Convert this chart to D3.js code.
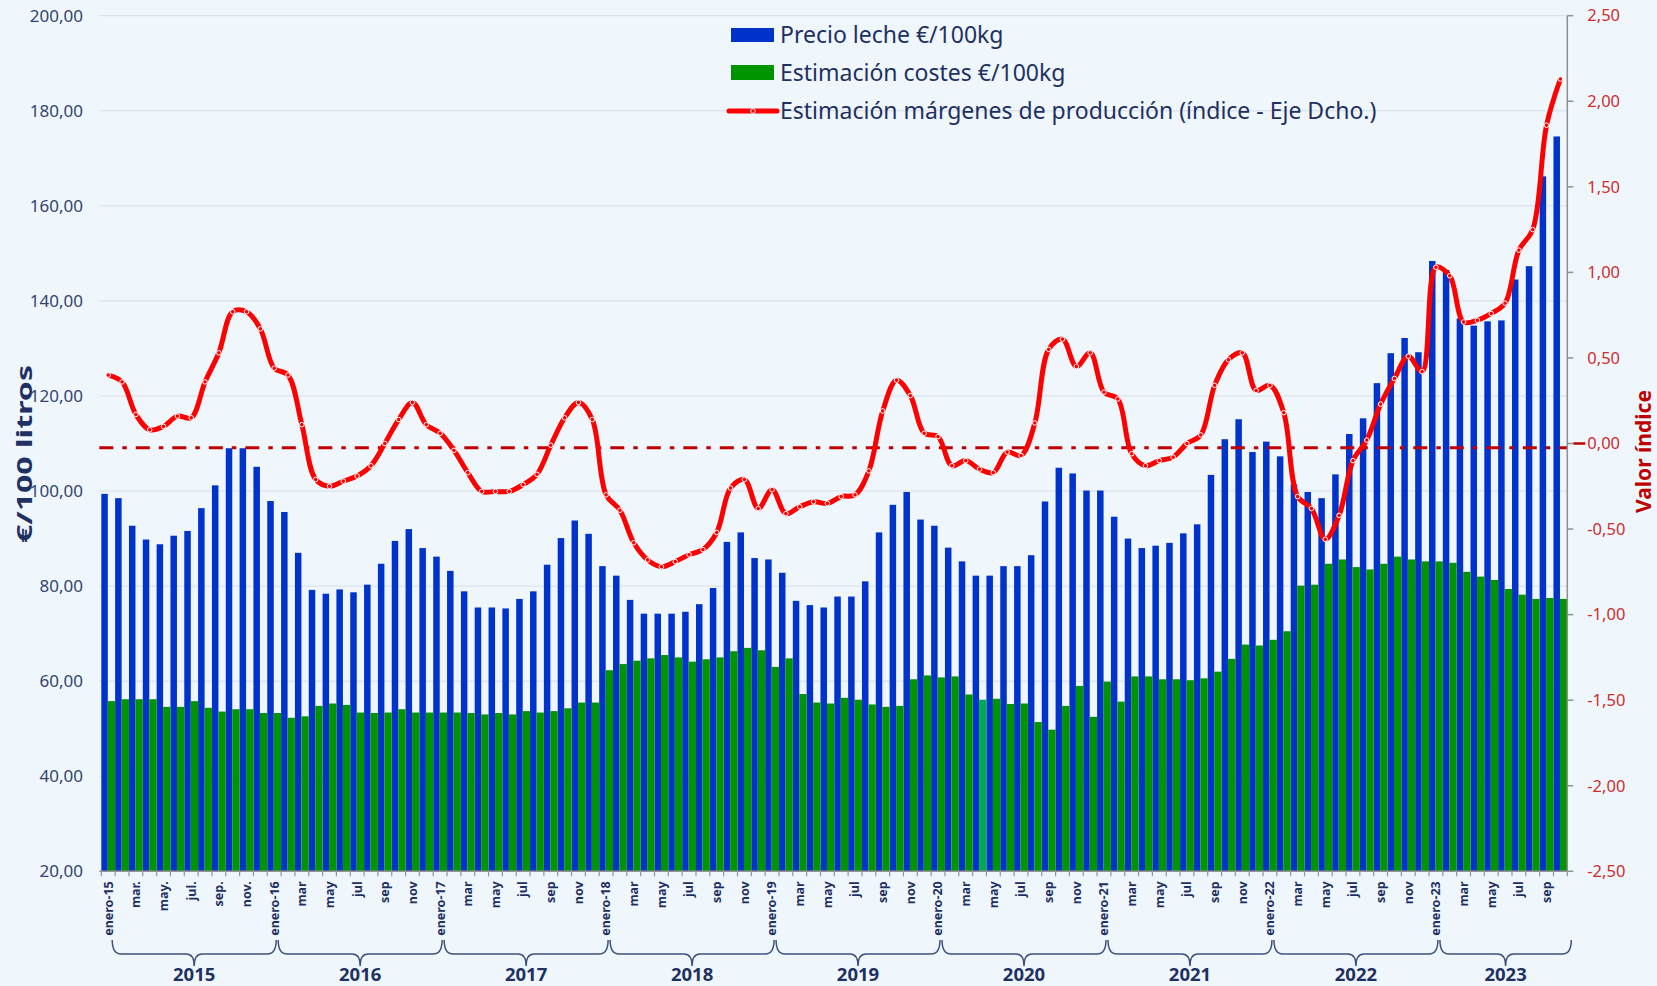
<!DOCTYPE html>
<html>
<head>
<meta charset="utf-8">
<script src="https://cdn.jsdelivr.net/npm/d3@7"></script>
<style>
    body { margin: 0; background: #eff7fd; }
    svg { display: block; font-family: "Noto Sans", sans-serif; }
</style>
</head>
<body>
<svg id="chart" width="1657" height="986"></svg>
<script>
// Monthly data, enero-2015 .. oct-2023
const precioLeche = [
    99.4, 98.5, 92.7, 89.8, 88.8, 90.6, 91.6, 96.4, 101.2, 109.0, 109.0, 105.1,
    97.9, 95.6, 87.0, 79.2, 78.4, 79.3, 78.7, 80.3, 84.7, 89.5, 92.0, 88.0,
    86.2, 83.2, 78.9, 75.5, 75.5, 75.3, 77.3, 78.9, 84.5, 90.1, 93.8, 91.0,
    84.2, 82.2, 77.1, 74.2, 74.2, 74.2, 74.6, 76.2, 79.6, 89.3, 91.3, 85.9,
    85.6, 82.8, 76.9, 76.0, 75.5, 77.8, 77.8, 81.0, 91.3, 97.1, 99.8, 94.0,
    92.7, 88.1, 85.2, 82.2, 82.2, 84.2, 84.2, 86.5, 97.8, 104.9, 103.7, 100.1,
    100.1, 94.6, 90.0, 88.0, 88.5, 89.1, 91.1, 93.0, 103.4, 110.9, 115.1, 108.2,
    110.4, 107.3, 101.4, 99.8, 98.5, 103.5, 112.0, 115.3, 122.7, 129.0, 132.2, 129.2,
    148.4, 146.5, 136.3, 134.8, 135.7, 135.9, 144.5, 147.3, 166.2, 174.6
];
const costes = [
    55.8, 56.2, 56.2, 56.2, 54.6, 54.6, 55.8, 54.4, 53.6, 54.1, 54.1, 53.3,
    53.3, 52.3, 52.6, 54.8, 55.3, 55.0, 53.4, 53.3, 53.4, 54.1, 53.4, 53.4,
    53.4, 53.4, 53.3, 53.0, 53.3, 53.0, 53.7, 53.4, 53.7, 54.3, 55.5, 55.5,
    62.3, 63.6, 64.3, 64.8, 65.5, 65.0, 64.1, 64.6, 65.0, 66.3, 67.0, 66.5,
    63.0, 64.8, 57.3, 55.5, 55.3, 56.5, 56.1, 55.1, 54.6, 54.8, 60.4, 61.2,
    60.8, 61.0, 57.2, 56.1, 56.3, 55.2, 55.3, 51.4, 49.8, 54.8, 59.0, 52.5,
    59.9, 55.7, 61.0, 61.0, 60.4, 60.4, 60.2, 60.6, 62.0, 64.7, 67.7, 67.5,
    68.7, 70.5, 80.1, 80.3, 84.7, 85.6, 84.0, 83.5, 84.7, 86.2, 85.6, 85.2,
    85.2, 84.9, 83.0, 82.0, 81.3, 79.4, 78.2, 77.3, 77.5, 77.3
];
const margenes = [
    0.40, 0.36, 0.17, 0.08, 0.10, 0.16, 0.15, 0.36, 0.53, 0.77, 0.77, 0.67,
    0.44, 0.40, 0.11, -0.21, -0.25, -0.22, -0.19, -0.13, 0.00, 0.14, 0.24, 0.11,
    0.06, -0.04, -0.17, -0.28, -0.28, -0.28, -0.24, -0.18, -0.01, 0.15, 0.24, 0.14,
    -0.30, -0.39, -0.58, -0.68, -0.72, -0.69, -0.65, -0.62, -0.52, -0.26, -0.21, -0.38,
    -0.27, -0.41, -0.37, -0.34, -0.35, -0.31, -0.30, -0.16, 0.19, 0.37, 0.28, 0.06,
    0.04, -0.13, -0.10, -0.15, -0.17, -0.05, -0.07, 0.12, 0.55, 0.61, 0.45, 0.53,
    0.30, 0.26, -0.06, -0.13, -0.10, -0.08, 0.00, 0.05, 0.34, 0.49, 0.53, 0.31,
    0.34, 0.18, -0.31, -0.38, -0.56, -0.42, -0.10, 0.02, 0.23, 0.38, 0.51, 0.42,
    1.03, 0.98, 0.71, 0.72, 0.76, 0.82, 1.13, 1.25, 1.86, 2.13
];
const refLine = -0.025; // dash-dot reference line on the right axis
const years = ['2015', '2016', '2017', '2018', '2019', '2020', '2021', '2022', '2023'];
const monthTicks2015 = ['enero', '', 'mar.', '', 'may.', '', 'jul.', '', 'sep.', '', 'nov.', ''];
const monthTicks = ['enero', '', 'mar', '', 'may', '', 'jul', '', 'sep', '', 'nov', ''];
const leftTicks = [20, 40, 60, 80, 100, 120, 140, 160, 180, 200];
const rightTicks = [2.5, 2, 1.5, 1, 0.5, 0, -0.5, -1, -1.5, -2, -2.5];
const highlightIdx = 63; // abr-2020 costes bar drawn in a lighter green
const legendItems = ['Precio leche €/100kg', 'Estimación costes €/100kg', 'Estimación márgenes de producción (índice - Eje Dcho.)'];

const n = precioLeche.length;
const tickLabels = d3.range(n).map(i => {
    const m = i % 12, y = Math.floor(i / 12);
    const name = (y === 0 ? monthTicks2015 : monthTicks)[m];
    return m === 0 ? name + '-' + years[y].slice(2) : name;
});

const navy = '#1f3062';
const x0 = 101.3, x1 = 1567.3, yTop = 15.7, yBot = 871.3;

const svg = d3.select('#chart');

const x = d3.scaleBand().domain(d3.range(n)).range([x0, x1]).paddingInner(0).paddingOuter(0);
const yL = d3.scaleLinear().domain([20, 200]).range([yBot, yTop]);
const yR = d3.scaleLinear().domain([-2.5, 2.5]).range([yBot, yTop]);
const bw = x.bandwidth();
const fmt = v => Math.abs(v).toFixed(2).replace('.', ',');

// gridlines
svg.append('g').selectAll('line')
    .data(leftTicks.slice(1))
    .join('line')
    .attr('x1', x0 - 2).attr('x2', x1)
    .attr('y1', d => yL(d)).attr('y2', d => yL(d))
    .attr('stroke', '#d7dee9').attr('stroke-width', 1);

// left labels
svg.append('g').selectAll('text')
    .data(leftTicks)
    .join('text')
    .attr('x', 83).attr('y', d => yL(d)).attr('dy', '0.35em')
    .attr('text-anchor', 'end')
    .attr('font-size', 17).attr('fill', '#34446f')
    .text(d => fmt(d));

// bars
svg.append('g').selectAll('rect')
    .data(precioLeche)
    .join('rect')
    .attr('x', (d, i) => x(i))
    .attr('width', bw * 0.47)
    .attr('y', d => yL(d))
    .attr('height', d => yBot - yL(d))
    .attr('fill', '#0033cc');

svg.append('g').selectAll('rect')
    .data(costes)
    .join('rect')
    .attr('x', (d, i) => x(i) + bw * 0.47)
    .attr('width', bw * 0.53)
    .attr('y', d => yL(d))
    .attr('height', d => yBot - yL(d))
    .attr('fill', (d, i) => i === highlightIdx ? '#00a850' : '#009400');

// reference line (dash-dot)
svg.append('line')
    .attr('x1', x0 - 2).attr('x2', x1)
    .attr('y1', yR(refLine)).attr('y2', yR(refLine))
    .attr('stroke', '#c00000').attr('stroke-width', 3)
    .attr('stroke-dasharray', '14,9,4.5,9');
svg.append('line')
    .attr('x1', x1 + 6).attr('x2', x1 + 18)
    .attr('y1', yR(0)).attr('y2', yR(0))
    .attr('stroke', '#c00000').attr('stroke-width', 2.5);

// x axis
svg.append('line')
    .attr('x1', x0 - 2).attr('x2', x1)
    .attr('y1', yBot).attr('y2', yBot)
    .attr('stroke', '#959595').attr('stroke-width', 1.5);
svg.append('g').selectAll('line')
    .data(d3.range(n + 1))
    .join('line')
    .attr('x1', i => x0 + i * bw).attr('x2', i => x0 + i * bw)
    .attr('y1', yBot).attr('y2', yBot + 5)
    .attr('stroke', '#959595').attr('stroke-width', 1.2);

svg.append('g').selectAll('text')
    .data(tickLabels)
    .join('text')
    .attr('transform', (d, i) => `translate(${x(i) + bw / 2},${yBot + 10}) rotate(-90)`)
    .attr('dy', '0.35em')
    .attr('text-anchor', 'end')
    .attr('font-size', 12.5).attr('font-weight', 'bold').attr('fill', navy)
    .text(d => d);

// year braces
const braceTop = 940, braceMid = 954, braceTip = 966;
const yearSpans = years.map((yr, k) => {
    const a = x(12 * k) + bw / 2 + 4;
    const b = Math.min(x(12 * k) + 12 * bw + bw / 2 + 2, x1 + 4);
    return {yr, a, b, m: (a + b) / 2};
});
svg.append('g').selectAll('path')
    .data(yearSpans)
    .join('path')
    .attr('d', s => {
        const p = d3.path();
        p.moveTo(s.a, braceTop);
        p.quadraticCurveTo(s.a, braceMid, s.a + 9, braceMid);
        p.lineTo(s.m - 8, braceMid);
        p.quadraticCurveTo(s.m, braceMid, s.m, braceTip);
        p.quadraticCurveTo(s.m, braceMid, s.m + 8, braceMid);
        p.lineTo(s.b - 9, braceMid);
        p.quadraticCurveTo(s.b, braceMid, s.b, braceTop);
        return p.toString();
    })
    .attr('fill', 'none').attr('stroke', '#3f5080').attr('stroke-width', 1.5);
svg.append('g').selectAll('text')
    .data(yearSpans)
    .join('text')
    .attr('x', s => s.m).attr('y', 981)
    .attr('text-anchor', 'middle')
    .attr('font-size', 18.5).attr('font-weight', 'bold').attr('fill', navy)
    .text(s => s.yr);

// right axis
svg.append('line')
    .attr('x1', x1).attr('x2', x1)
    .attr('y1', yTop).attr('y2', yBot)
    .attr('stroke', '#8f8f8f').attr('stroke-width', 1.5);
svg.append('g').selectAll('line')
    .data(rightTicks)
    .join('line')
    .attr('x1', x1).attr('x2', x1 + 6)
    .attr('y1', d => yR(d)).attr('y2', d => yR(d))
    .attr('stroke', '#8f8f8f').attr('stroke-width', 1.5);
svg.append('g').selectAll('text')
    .data(rightTicks)
    .join('text')
    .attr('x', x1 + 20).attr('y', d => yR(d)).attr('dy', '0.35em')
    .attr('font-size', 16.5).attr('fill', '#cf2c2c')
    .text(d => (d < 0 ? '-' : '') + fmt(d));

// axis titles
svg.append('text')
    .attr('transform', `translate(25,454) rotate(-90)`)
    .attr('text-anchor', 'middle').attr('dy', '0.35em')
    .attr('font-size', 21).attr('font-weight', 'bold').attr('fill', navy)
    .attr('textLength', 178).attr('lengthAdjust', 'spacingAndGlyphs')
    .text('€/100 litros');
svg.append('text')
    .attr('transform', `translate(1644,${(yTop + yBot) / 2 + 8}) rotate(-90)`)
    .attr('text-anchor', 'middle').attr('dy', '0.35em')
    .attr('font-size', 21).attr('font-weight', 'bold').attr('fill', '#c00000')
    .text('Valor índice');

// margin line
const line = d3.line()
    .x((d, i) => x(i) + bw / 2)
    .y(d => yR(d))
    .curve(d3.curveCatmullRom.alpha(0.5));
svg.append('path')
    .datum(margenes)
    .attr('d', line)
    .attr('fill', 'none').attr('stroke', '#ff0000').attr('stroke-width', 5)
    .attr('stroke-linejoin', 'round');
svg.append('g').selectAll('circle')
    .data(margenes)
    .join('circle')
    .attr('cx', (d, i) => x(i) + bw / 2)
    .attr('cy', d => yR(d))
    .attr('r', 2.3)
    .attr('fill', '#ff0000').attr('stroke', '#ffffff').attr('stroke-width', 1);

// legend
const lg = svg.append('g');
const rowY = [35, 73, 111];
lg.append('rect').attr('x', 731).attr('y', rowY[0] - 7).attr('width', 43).attr('height', 14).attr('fill', '#0033cc');
lg.append('rect').attr('x', 731).attr('y', rowY[1] - 8).attr('width', 43).attr('height', 15).attr('fill', '#009400');
lg.append('line').attr('x1', 729).attr('x2', 777).attr('y1', rowY[2]).attr('y2', rowY[2])
    .attr('stroke', '#ff0000').attr('stroke-width', 5).attr('stroke-linecap', 'round');
lg.append('circle').attr('cx', 753).attr('cy', rowY[2]).attr('r', 2.3)
    .attr('fill', '#ff0000').attr('stroke', '#ffffff').attr('stroke-width', 1);
lg.selectAll('text')
    .data(legendItems)
    .join('text')
    .attr('x', 780).attr('y', (d, i) => rowY[i]).attr('dy', '0.35em')
    .attr('font-size', 23).attr('fill', navy)
    .text(d => d);
</script>
</body>
</html>
